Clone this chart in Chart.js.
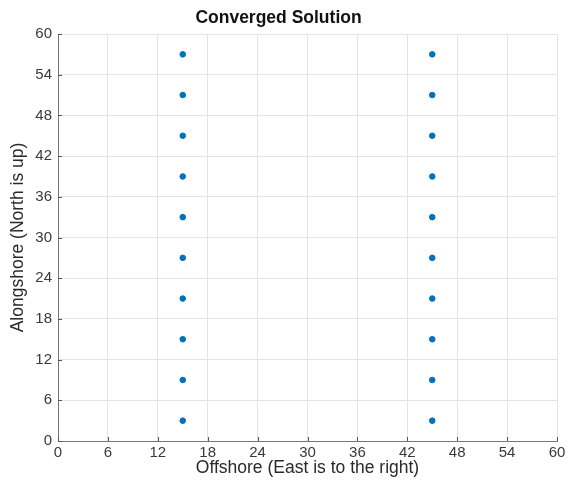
<!DOCTYPE html>
<html lang="en">
<head>
  <meta charset="UTF-8" />
  <title>Converged Solution</title>
  <script src="https://cdn.jsdelivr.net/npm/chart.js"></script>
  <style>
    html, body { margin: 0; padding: 0; background: #fff; }
    #wrap { width: 570px; height: 484px; }
  </style>
</head>
<body>
  <div id="wrap"><canvas id="grafico" width="570" height="484"></canvas></div>
  <script>
    // node positions: two offshore lines, evenly spaced alongshore
    const offshoreLines = [15, 45];
    const alongshore = [3, 9, 15, 21, 27, 33, 39, 45, 51, 57];
    const tickValues = [0, 6, 12, 18, 24, 30, 36, 42, 48, 54, 60];

    const pontos = [];
    offshoreLines.forEach(x => alongshore.forEach(y => pontos.push({ x: x, y: y })));

    const fonte = "'Liberation Sans', Arial, sans-serif";

    // small inward ticks like the usual matlab axes
    const ticksInternos = {
      id: 'ticksInternos',
      afterDraw(chart) {
        const ctx = chart.ctx, a = chart.chartArea;
        const sx = chart.scales.x, sy = chart.scales.y;
        ctx.save();
        ctx.strokeStyle = '#555';
        ctx.lineWidth = 1;
        ctx.beginPath();
        tickValues.forEach(v => {
          const px = Math.round(sx.getPixelForValue(v)) + 0.5;
          ctx.moveTo(px, a.bottom); ctx.lineTo(px, a.bottom - 4);
          const py = Math.round(sy.getPixelForValue(v)) + 0.5;
          ctx.moveTo(a.left, py); ctx.lineTo(a.left + 4, py);
        });
        ctx.stroke();
        ctx.restore();
      }
    };

    new Chart(document.getElementById('grafico'), {
      type: 'scatter',
      data: {
        datasets: [{
          data: pontos,
          backgroundColor: '#0072BD',
          borderColor: '#0072BD',
          pointRadius: 2.8,
          pointHoverRadius: 2.8
        }]
      },
      options: {
        responsive: false,
        animation: false,
        layout: { padding: { left: 0, right: 13, top: 0, bottom: 0 } },
        plugins: {
          legend: { display: false },
          tooltip: { enabled: false },
          title: {
            display: true,
            text: 'Converged Solution',
            color: '#111',
            font: { family: fonte, size: 17.5, weight: 'bold' },
            padding: { top: 8, bottom: 5 }
          }
        },
        scales: {
          x: {
            type: 'linear', min: 0, max: 60,
            afterFit: s => { s.height = 43; },
            afterBuildTicks: s => { s.ticks = tickValues.map(v => ({ value: v })); },
            grid: { color: '#e4e4e4', drawTicks: false },
            border: { color: '#777', width: 1 },
            ticks: { color: '#3a3a3a', padding: 3, font: { family: fonte, size: 15 } },
            title: {
              display: true, text: 'Offshore (East is to the right)', color: '#2a2a2a',
              font: { family: fonte, size: 17.5 }, padding: { top: 0, bottom: 5 }
            }
          },
          y: {
            type: 'linear', min: 0, max: 60,
            afterFit: s => { s.width = 58; },
            afterBuildTicks: s => { s.ticks = tickValues.map(v => ({ value: v })); },
            grid: { color: '#e4e4e4', drawTicks: false },
            border: { color: '#777', width: 1 },
            ticks: { color: '#3a3a3a', padding: 6, font: { family: fonte, size: 15 } },
            title: {
              display: true, text: 'Alongshore (North is up)', color: '#2a2a2a',
              font: { family: fonte, size: 17.5 }, padding: { top: 8, bottom: 0 }
            }
          }
        }
      },
      plugins: [ticksInternos]
    });
  </script>
</body>
</html>
